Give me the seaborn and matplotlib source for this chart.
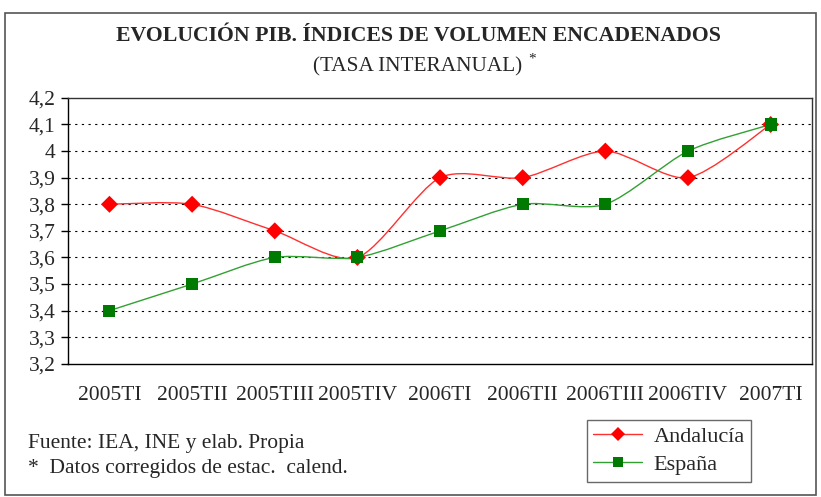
import numpy as np
import pandas as pd
import matplotlib
matplotlib.use("Agg")
import matplotlib.pyplot as plt
import seaborn as sns
from matplotlib.path import Path
from matplotlib.patches import PathPatch, Rectangle
from matplotlib.lines import Line2D

# --- DATOS ---
trimestres = ["2005TI", "2005TII", "2005TIII", "2005TIV", "2006TI",
              "2006TII", "2006TIII", "2006TIV", "2007TI"]
andalucia = [3.8, 3.8, 3.7, 3.6, 3.9, 3.9, 4.0, 3.9, 4.1]
espana = [3.4, 3.5, 3.6, 3.6, 3.7, 3.8, 3.8, 4.0, 4.1]
y_ticks = [3.2, 3.3, 3.4, 3.5, 3.6, 3.7, 3.8, 3.9, 4.0, 4.1, 4.2]

df = pd.DataFrame({"trimestre": trimestres * 2,
                   "valor": andalucia + espana,
                   "serie": ["Andalucía"] * 9 + ["España"] * 9})

sns.set_style("white")
plt.rcParams["font.family"] = ["Liberation Serif", "DejaVu Serif"]

fig = plt.figure(figsize=(8.21, 4.97), dpi=100)
ax = fig.add_axes([0.083, 0.268, 0.906, 0.535])

# borde de la figura
fig.patches.append(Rectangle((0.006, 0.004), 0.988, 0.97, transform=fig.transFigure,
                             fill=False, edgecolor="#555555", linewidth=1.2))


def curva_suave(xs, ys, tension=0.4):
    # bezier tipo "linea suavizada" de Excel entre los puntos
    verts = [(xs[0], ys[0])]
    codes = [Path.MOVETO]
    n = len(xs)
    for i in range(n - 1):
        x0, y0 = (xs[i - 1], ys[i - 1]) if i > 0 else (xs[i], ys[i])
        x3, y3 = (xs[i + 2], ys[i + 2]) if i + 2 < n else (xs[i + 1], ys[i + 1])
        c1 = (xs[i] + (xs[i + 1] - x0) * tension / 3, ys[i] + (ys[i + 1] - y0) * tension / 3)
        c2 = (xs[i + 1] - (x3 - xs[i]) * tension / 3, ys[i + 1] - (y3 - ys[i]) * tension / 3)
        verts += [c1, c2, (xs[i + 1], ys[i + 1])]
        codes += [Path.CURVE4] * 3
    return Path(verts, codes)


xpos = np.arange(len(trimestres))
ax.add_patch(PathPatch(curva_suave(xpos, andalucia), fill=False, edgecolor="#ff3030", lw=1.0, zorder=2))
ax.add_patch(PathPatch(curva_suave(xpos, espana), fill=False, edgecolor="#33a033", lw=1.0, zorder=2))

sns.scatterplot(data=df, x="trimestre", y="valor", hue="serie", style="serie",
                markers={"Andalucía": "D", "España": "s"},
                palette={"Andalucía": "#ff0000", "España": "#007a00"},
                s=75, linewidth=0, ax=ax, legend=False, zorder=3)

ax.set_xlim(-0.5, len(trimestres) - 0.5)
ax.set_ylim(3.2, 4.2)
ax.set_yticks(y_ticks)
ax.set_yticklabels([("%g" % v).replace(".", ",") for v in y_ticks], fontsize=15.5)
ax.set_xticks(xpos)
ax.set_xticklabels(trimestres, fontsize=15.5)
ax.set_xticks(np.arange(-0.5, len(trimestres)), minor=True)
ax.tick_params(axis="x", which="major", length=0, pad=16)
ax.tick_params(axis="x", which="minor", length=7, width=1, color="black", direction="out")
ax.tick_params(axis="y", length=5, width=1, color="black", direction="out", left=True, pad=4)
ax.set_xlabel("")
ax.set_ylabel("")

for v in y_ticks[1:-1]:
    ax.axhline(v, color="black", linestyle=(0, (2, 4)), linewidth=0.8, zorder=1)

for s in ax.spines.values():
    s.set_color("black")
    s.set_linewidth(1.0)
ax.spines["top"].set_color("#333333")
ax.spines["right"].set_color("#333333")

fig.text(0.51, 0.928, "EVOLUCIÓN PIB. ÍNDICES DE VOLUMEN ENCADENADOS",
         ha="center", va="center", fontsize=15.7, fontweight="bold")
fig.text(0.508, 0.866, "(TASA INTERANUAL)", ha="center", va="center", fontsize=15.3)
fig.text(0.648, 0.882, "*", ha="center", va="center", fontsize=11)

fig.text(0.034, 0.108, "Fuente: IEA, INE y elab. Propia", ha="left", va="center", fontsize=15.5)
fig.text(0.034, 0.058, "*  Datos corregidos de estac.  calend.", ha="left", va="center", fontsize=15.5)

handles = [Line2D([], [], color="#ff3030", lw=1.0, marker="D", markersize=7,
                  markerfacecolor="#ff0000", markeredgewidth=0),
           Line2D([], [], color="#33a033", lw=1.0, marker="s", markersize=7,
                  markerfacecolor="#007a00", markeredgewidth=0)]
leg = fig.legend(handles, ["Andalucía", "España"], loc="center", bbox_to_anchor=(0.815, 0.093),
                 frameon=True, fancybox=False, edgecolor="#444444", fontsize=16,
                 handlelength=2.2, handletextpad=0.5, labelspacing=0.35, borderpad=0.3)
leg.get_frame().set_linewidth(1.0)

fig.savefig("out.png", dpi=100)
